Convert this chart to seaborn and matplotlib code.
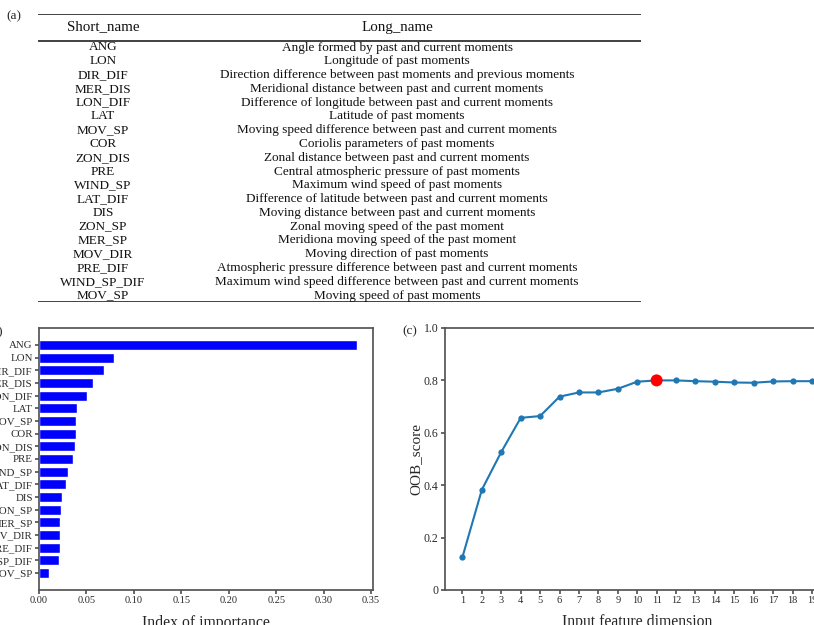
import numpy as np
import pandas as pd
import seaborn as sns
import matplotlib.pyplot as plt

# data
short_names = ['ANG', 'LON', 'DIR_DIF', 'MER_DIS', 'LON_DIF', 'LAT', 'MOV_SP', 'COR',
               'ZON_DIS', 'PRE', 'WIND_SP', 'LAT_DIF', 'DIS', 'ZON_SP', 'MER_SP',
               'MOV_DIR', 'PRE_DIF', 'WIND_SP_DIF', 'MOV_SP']
long_names = ['Angle formed by past and current moments',
              'Longitude of past moments',
              'Direction difference between past moments and previous moments',
              'Meridional distance between past and current moments',
              'Difference of longitude between past and current moments',
              'Latitude of past moments',
              'Moving speed difference between past and current moments',
              'Coriolis parameters of past moments',
              'Zonal distance between past and current moments',
              'Central atmospheric pressure of past moments',
              'Maximum wind speed of past moments',
              'Difference of latitude between past and current moments',
              'Moving distance between past and current moments',
              'Zonal moving speed of the past moment',
              'Meridiona moving speed of the past moment',
              'Moving direction of past moments',
              'Atmospheric pressure difference between past and current moments',
              'Maximum wind speed difference between past and current moments',
              'Moving speed of past moments']
importance = [0.335, 0.079, 0.069, 0.0565, 0.051, 0.0404, 0.0393, 0.039, 0.0376, 0.0362,
              0.031, 0.0288, 0.024, 0.0228, 0.0222, 0.0221, 0.0221, 0.0211, 0.0109]
dims = list(range(1, 20))
oob_score = [0.126, 0.383, 0.527, 0.657, 0.664, 0.738, 0.754, 0.754, 0.768, 0.795,
             0.800, 0.800, 0.797, 0.795, 0.792, 0.791, 0.796, 0.797, 0.797]
best_dim = 11

sns.set_theme(style='ticks')
plt.rcParams['font.family'] = ['Liberation Serif', 'DejaVu Serif']
plt.rcParams['axes.edgecolor'] = '#555555'
plt.rcParams['xtick.color'] = '#555555'
plt.rcParams['ytick.color'] = '#555555'
plt.rcParams['xtick.labelcolor'] = '#2a2a2a'
plt.rcParams['ytick.labelcolor'] = '#2a2a2a'
plt.rcParams['xtick.major.size'] = 3
plt.rcParams['ytick.major.size'] = 3
plt.rcParams['xtick.major.pad'] = 1.5
plt.rcParams['ytick.major.pad'] = 1.5

W, H = 814, 625
fig = plt.figure(figsize=(W / 100, H / 100), dpi=100)

# (a) table, in pixel-like coordinates
tab = fig.add_axes([38 / W, 1 - 302 / H, (641 - 38) / W, (302 - 14) / H])
tab.set_xlim(0, 603)
tab.set_ylim(288, 0)
tab.axis('off')
for yy in [0, 27, 288]:
    tab.plot([0, 603], [yy, yy], color='#333333', lw=1.3, solid_capstyle='butt')
tab.text(65, 13, 'Short_name', ha='center', va='center', fontsize=10.8, color='#111111')
tab.text(359, 13, 'Long_name', ha='center', va='center', fontsize=10.8, color='#111111')
for i, (s, l) in enumerate(zip(short_names, long_names)):
    yy = 33.5 + i * 13.78
    tab.text(65, yy, s, ha='center', va='center', fontsize=9.5, color='#111111')
    tab.text(359, yy, l, ha='center', va='center', fontsize=9.5, color='#111111')
fig.text(14 / W, 1 - 16 / H, '(a)', ha='center', va='center', fontsize=9.5)

# (b) importance bars
ax1 = fig.add_axes([39 / W, 1 - 590 / H, (373 - 39) / W, (590 - 328) / H])
df_imp = pd.DataFrame({'rank': list(range(len(importance))), 'importance': importance})
sns.barplot(data=df_imp, x='importance', y='rank', orient='h', color='blue',
            saturation=1, width=0.8, ax=ax1)
ax1.set_yticks(range(len(short_names)))
ax1.set_yticklabels(short_names, fontsize=7.8)
ax1.set_ylim(len(importance) - 1 + 0.4 + 0.94, -0.4 - 0.94)
ax1.set_xlim(0, 0.352)
ax1.set_xticks(np.arange(0, 0.36, 0.05))
ax1.set_xticklabels([f'{v:.2f}' for v in np.arange(0, 0.36, 0.05)], fontsize=7.5)
ax1.set_xlabel('Index of importance', fontsize=11.3, labelpad=7)
ax1.set_ylabel('')
for sp in ax1.spines.values():
    sp.set_visible(True)
fig.text(3 / W, 1 - 331 / H, '(b)', ha='right', va='center', fontsize=9.5)

# (c) OOB score vs dimension
ax2 = fig.add_axes([445 / W, 1 - 590 / H, (829.4 - 445) / W, (590 - 328) / H])
df_oob = pd.DataFrame({'dim': dims, 'oob': oob_score})
sns.lineplot(data=df_oob, x='dim', y='oob', color='#1f77b4', marker='o',
             markersize=4.5, markeredgewidth=0, lw=1.5, ax=ax2)
sns.scatterplot(data=df_oob[df_oob['dim'] == best_dim], x='dim', y='oob', color='red',
                s=75, edgecolor='none', zorder=5, ax=ax2)
ax2.set_xlim(0.1, 19.9)
ax2.set_ylim(0, 1.0)
ax2.set_xticks(dims)
ax2.set_xticklabels([str(d) for d in dims], fontsize=7.5)
ax2.set_yticks([0, 0.2, 0.4, 0.6, 0.8, 1.0])
ax2.set_yticklabels(['0', '0.2', '0.4', '0.6', '0.8', '1.0'], fontsize=8.5)
ax2.set_xlabel('Input feature dimension', fontsize=11.3, labelpad=6)
ax2.set_ylabel('OOB_score', fontsize=11, labelpad=1)
for sp in ax2.spines.values():
    sp.set_visible(True)
fig.text(410 / W, 1 - 331 / H, '(c)', ha='center', va='center', fontsize=9.5)

fig.savefig('out.png', dpi=100)
